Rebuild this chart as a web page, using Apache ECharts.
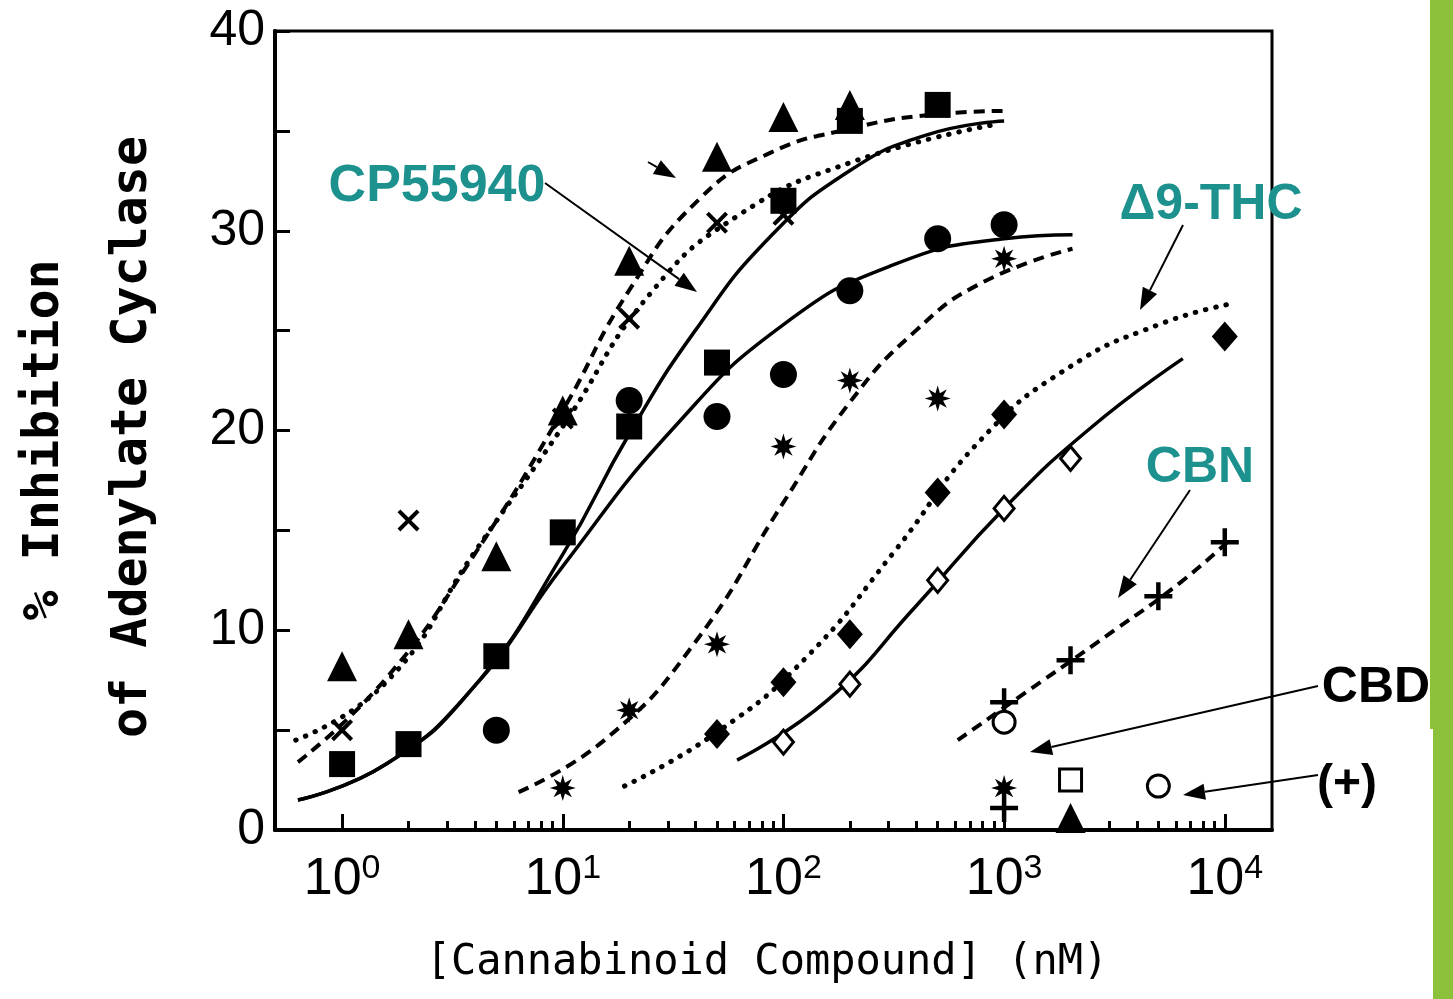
<!DOCTYPE html>
<html>
<head>
<meta charset="utf-8">
<title>Inhibition of adenylate cyclase by cannabinoid compounds</title>
<script src="https://cdn.jsdelivr.net/npm/echarts@6/dist/echarts.min.js"></script>
<style>
  html, body { margin: 0; padding: 0; background: #fff; }
  #chart { width: 1453px; height: 999px; }
</style>
</head>
<body>
<div id="chart"></div>
<script>
// x axis is log10 of concentration (nM), y is % inhibition
const decadeExps = [0, 1, 2, 3, 4];
const minorMantissas = [2, 3, 4, 5, 6, 7, 8, 9];

// measured points, concentration in nM
const triConc = [1, 2, 5, 10, 20, 50, 100, 200, 2000];
const triVal = [8.2, 9.8, 13.7, 21.0, 28.5, 33.7, 35.7, 36.3, 0.6];
const crossConc = [1, 2, 10, 20, 50, 100];
const crossVal = [5.0, 15.5, 20.6, 25.6, 30.4, 30.8];
const sqConc = [1, 2, 5, 10, 20, 50, 100, 200, 500];
const sqVal = [3.3, 4.3, 8.7, 14.9, 20.2, 23.4, 31.5, 35.5, 36.3];
const dotConc = [5, 20, 50, 100, 200, 500, 1000];
const dotVal = [5.0, 21.5, 20.7, 22.8, 27.0, 29.6, 30.3];
const starConc = [10, 20, 50, 100, 200, 500, 1000, 1000];
const starVal = [2.1, 6.0, 9.3, 19.2, 22.5, 21.6, 28.6, 2.1];
const diaConc = [50, 100, 200, 500, 1000, 10000];
const diaVal = [4.8, 7.4, 9.8, 16.9, 20.8, 24.7];
const openDiaConc = [100, 200, 500, 1000, 2000];
const openDiaVal = [4.4, 7.3, 12.5, 16.1, 18.6];
const plusConc = [1000, 2000, 5000, 10000, 1000];
const plusVal = [6.4, 8.5, 11.7, 14.4, 1.1];
const openCircConc = [1000, 5000];
const openCircVal = [5.4, 2.2];
const openSqConc = [2000];
const openSqVal = [2.5];

// fitted curves, x given as log10(nM)
const triFitLog = [-0.2, 0.2, 0.6, 1.0, 1.3, 1.62, 1.94, 2.3, 2.66, 3.0];
const triFitVal = [3.4, 7.6, 13.8, 21.0, 27.0, 31.6, 33.9, 35.1, 35.8, 36.0];
const crossFitLog = [-0.21, 0.2, 0.6, 1.0, 1.4, 1.8, 2.3, 2.95];
const crossFitVal = [4.5, 7.4, 13.9, 20.2, 26.9, 30.8, 33.4, 35.3];
const sqFitLog = [-0.2, 0.2, 0.6, 1.0, 1.3, 1.6, 1.94, 2.3, 2.65, 3.0];
const sqFitVal = [1.5, 3.3, 7.2, 13.8, 19.8, 25.0, 29.7, 33.0, 34.8, 35.5];
const dotFitLog = [-0.2, 0.2, 0.6, 1.0, 1.5, 2.0, 2.5, 3.0, 3.31];
const dotFitVal = [1.5, 3.3, 7.2, 13.2, 20.1, 25.3, 28.3, 29.6, 29.8];
const starFitLog = [0.8, 1.2, 1.6, 2.0, 2.3, 2.6, 2.9, 3.31];
const starFitVal = [1.9, 4.6, 9.4, 16.4, 21.4, 25.0, 27.4, 29.1];
const diaFitLog = [1.28, 1.7, 2.1, 2.5, 2.9, 3.3, 3.7, 4.01];
const diaFitVal = [2.2, 4.9, 8.6, 13.9, 19.6, 23.2, 25.3, 26.3];
const openDiaFitLog = [1.79, 2.2, 2.6, 3.0, 3.4, 3.81];
const openDiaFitVal = [3.5, 6.5, 11.2, 16.1, 20.2, 23.6];
const plusFitLog = [2.79, 3.1, 3.5, 3.8, 4.02];
const plusFitVal = [4.5, 6.9, 10.0, 12.4, 14.5];

const teal = '#1d918d';
const narrow = '"Liberation Sans Narrow", "Liberation Sans", sans-serif';
const mono = '"DejaVu Sans Mono", monospace';

const pts = (conc, vals) => conc.map((c, i) => [Math.log10(c), vals[i]]);
const fit = (lx, vals) => lx.map((x, i) => [x, vals[i]]);

const majorTicks = decadeExps.slice();
const minorTicks = [];
decadeExps.slice(0, 4).forEach(e => minorMantissas.forEach(m => minorTicks.push(Math.log10(m) + e)));

// marker shapes
let starPath = 'path://';
for (let k = 0; k < 16; k++) {
  const r = k % 2 ? 4.5 : 10, a = k * Math.PI / 8;
  starPath += (k ? 'L' : 'M') + (10 + r * Math.sin(a)).toFixed(2) + ',' + (10 - r * Math.cos(a)).toFixed(2);
}
starPath += 'Z';
const crossPath = 'path://M0,1.3L1.3,0L5,3.7L8.7,0L10,1.3L6.3,5L10,8.7L8.7,10L5,6.3L1.3,10L0,8.7L3.7,5Z';
const plusPath = 'path://M4.2,0H5.8V4.2H10V5.8H5.8V10H4.2V5.8H0V4.2H4.2Z';

function curve(data, dash, width) {
  return {
    type: 'line', data, smooth: 0.5, symbol: 'none', silent: true, z: 2,
    lineStyle: { color: '#000', width: width || 4, type: dash, cap: Array.isArray(dash) && dash[0] < 2 ? 'round' : 'butt' }
  };
}
function marks(data, symbol, size, open) {
  return {
    type: 'scatter', data, symbol, symbolSize: size, silent: true, z: 3,
    itemStyle: open ? { color: '#fff', borderColor: '#000', borderWidth: 3, opacity: 1 } : { color: '#000', opacity: 1 }
  };
}

function arrow(x1, y1, x2, y2) {
  const a = Math.atan2(y2 - y1, x2 - x1), len = 22, half = 8;
  const bx = x2 - len * Math.cos(a), by = y2 - len * Math.sin(a);
  const px = -Math.sin(a) * half, py = Math.cos(a) * half;
  return [
    { type: 'line', z: 10, shape: { x1, y1, x2: bx, y2: by }, style: { stroke: '#000', lineWidth: 2 } },
    { type: 'polygon', z: 10, shape: { points: [[x2, y2], [bx + px, by + py], [bx - px, by - py]] }, style: { fill: '#000' } }
  ];
}
function label(text, x, y, color, size) {
  return { type: 'text', x, y, z: 10, style: { text, fill: color, font: 'bold ' + size + 'px "Liberation Sans", Arial, sans-serif', align: 'center', verticalAlign: 'middle' } };
}

const dashed = [11, 7];
const dotted = [0.5, 10];

const chart = echarts.init(document.getElementById('chart'));
chart.setOption({
  animation: false,
  backgroundColor: '#fff',
  grid: { left: 275, right: 181, top: 31, bottom: 169, show: true, borderColor: '#000', borderWidth: 3 },
  xAxis: [
    {
      type: 'value', min: -0.304, max: 4.214, position: 'bottom',
      axisLine: { onZero: false, lineStyle: { color: '#000', width: 4 } },
      axisTick: { inside: true, length: 16, lineStyle: { color: '#000', width: 3 }, customValues: majorTicks },
      axisLabel: {
        customValues: majorTicks, margin: 22,
        formatter: v => '{b|10}{s|' + Math.round(v) + '}',
        rich: {
          b: { fontSize: 52, fontFamily: narrow, color: '#000', lineHeight: 56 },
          s: { fontSize: 34, fontFamily: narrow, color: '#000', lineHeight: 30, verticalAlign: 'top' }
        }
      },
      splitLine: { show: false }
    },
    {
      type: 'value', min: -0.304, max: 4.214, position: 'bottom',
      axisLine: { show: false, onZero: false },
      axisTick: { inside: true, length: 9, lineStyle: { color: '#000', width: 3 }, customValues: minorTicks },
      axisLabel: { show: false },
      splitLine: { show: false }
    }
  ],
  yAxis: {
    type: 'value', min: 0, max: 40, interval: 10,
    axisLine: { show: true, onZero: false, lineStyle: { color: '#000', width: 4 } },
    axisTick: { inside: true, length: 15, lineStyle: { color: '#000', width: 3 } },
    minorTick: { show: true, splitNumber: 2, length: 15, lineStyle: { color: '#000', width: 3 } },
    axisLabel: { margin: 10, fontSize: 50, fontFamily: narrow, color: '#000' },
    splitLine: { show: false }
  },
  series: [
    curve(fit(triFitLog, triFitVal), dashed),
    curve(fit(crossFitLog, crossFitVal), dotted, 5),
    curve(fit(sqFitLog, sqFitVal), 'solid', 3.5),
    curve(fit(dotFitLog, dotFitVal), 'solid', 3.5),
    curve(fit(starFitLog, starFitVal), dashed),
    curve(fit(diaFitLog, diaFitVal), dotted, 5),
    curve(fit(openDiaFitLog, openDiaFitVal), 'solid', 3.5),
    curve(fit(plusFitLog, plusFitVal), dashed),
    marks(pts(triConc, triVal), 'triangle', 30),
    marks(pts(crossConc, crossVal), crossPath, 22),
    marks(pts(sqConc, sqVal), 'rect', 26),
    marks(pts(dotConc, dotVal), 'circle', 27),
    marks(pts(starConc, starVal), starPath, 26),
    marks(pts(diaConc, diaVal), 'diamond', [26, 30]),
    marks(pts(openDiaConc, openDiaVal), 'diamond', [20, 24], true),
    marks(pts(plusConc, plusVal), plusPath, 28),
    marks(pts(openCircConc, openCircVal), 'circle', 22, true),
    marks(pts(openSqConc, openSqVal), 'rect', 22, true)
  ],
  graphic: [
    { type: 'rect', z: 0, shape: { x: 1430, y: 0, width: 23, height: 729 }, style: { fill: '#8dc13c' } },
    { type: 'rect', z: 0, shape: { x: 1433, y: 729, width: 20, height: 270 }, style: { fill: '#8dc13c' } },
    { type: 'text', x: 45, y: 440, rotation: Math.PI / 2, z: 10,
      style: { text: '% Inhibition', fill: '#000', font: 'bold 50px ' + mono, align: 'center', verticalAlign: 'middle' } },
    { type: 'text', x: 133, y: 437, rotation: Math.PI / 2, z: 10,
      style: { text: 'of Adenylate Cyclase', fill: '#000', font: 'bold 50px ' + mono, align: 'center', verticalAlign: 'middle' } },
    { type: 'text', x: 767, y: 963, z: 10,
      style: { text: '[Cannabinoid Compound] (nM)', fill: '#000', font: '42px ' + mono, align: 'center', verticalAlign: 'middle' } },
    label('CP55940', 437, 187, teal, 52),
    label('\u03949-THC', 1211, 205, teal, 50),
    label('CBN', 1200, 468, teal, 50),
    label('CBD', 1376, 688, '#000', 50),
    label('(+)', 1347, 785, '#000', 48),
    ...arrow(545, 183, 697, 292),
    ...arrow(1183, 225, 1140, 310),
    ...arrow(1190, 490, 1118, 598),
    ...arrow(1318, 686, 1030, 752),
    ...arrow(1318, 775, 1183, 795),
    ...arrow(648, 162, 676, 178)
  ]
});
</script>
</body>
</html>
